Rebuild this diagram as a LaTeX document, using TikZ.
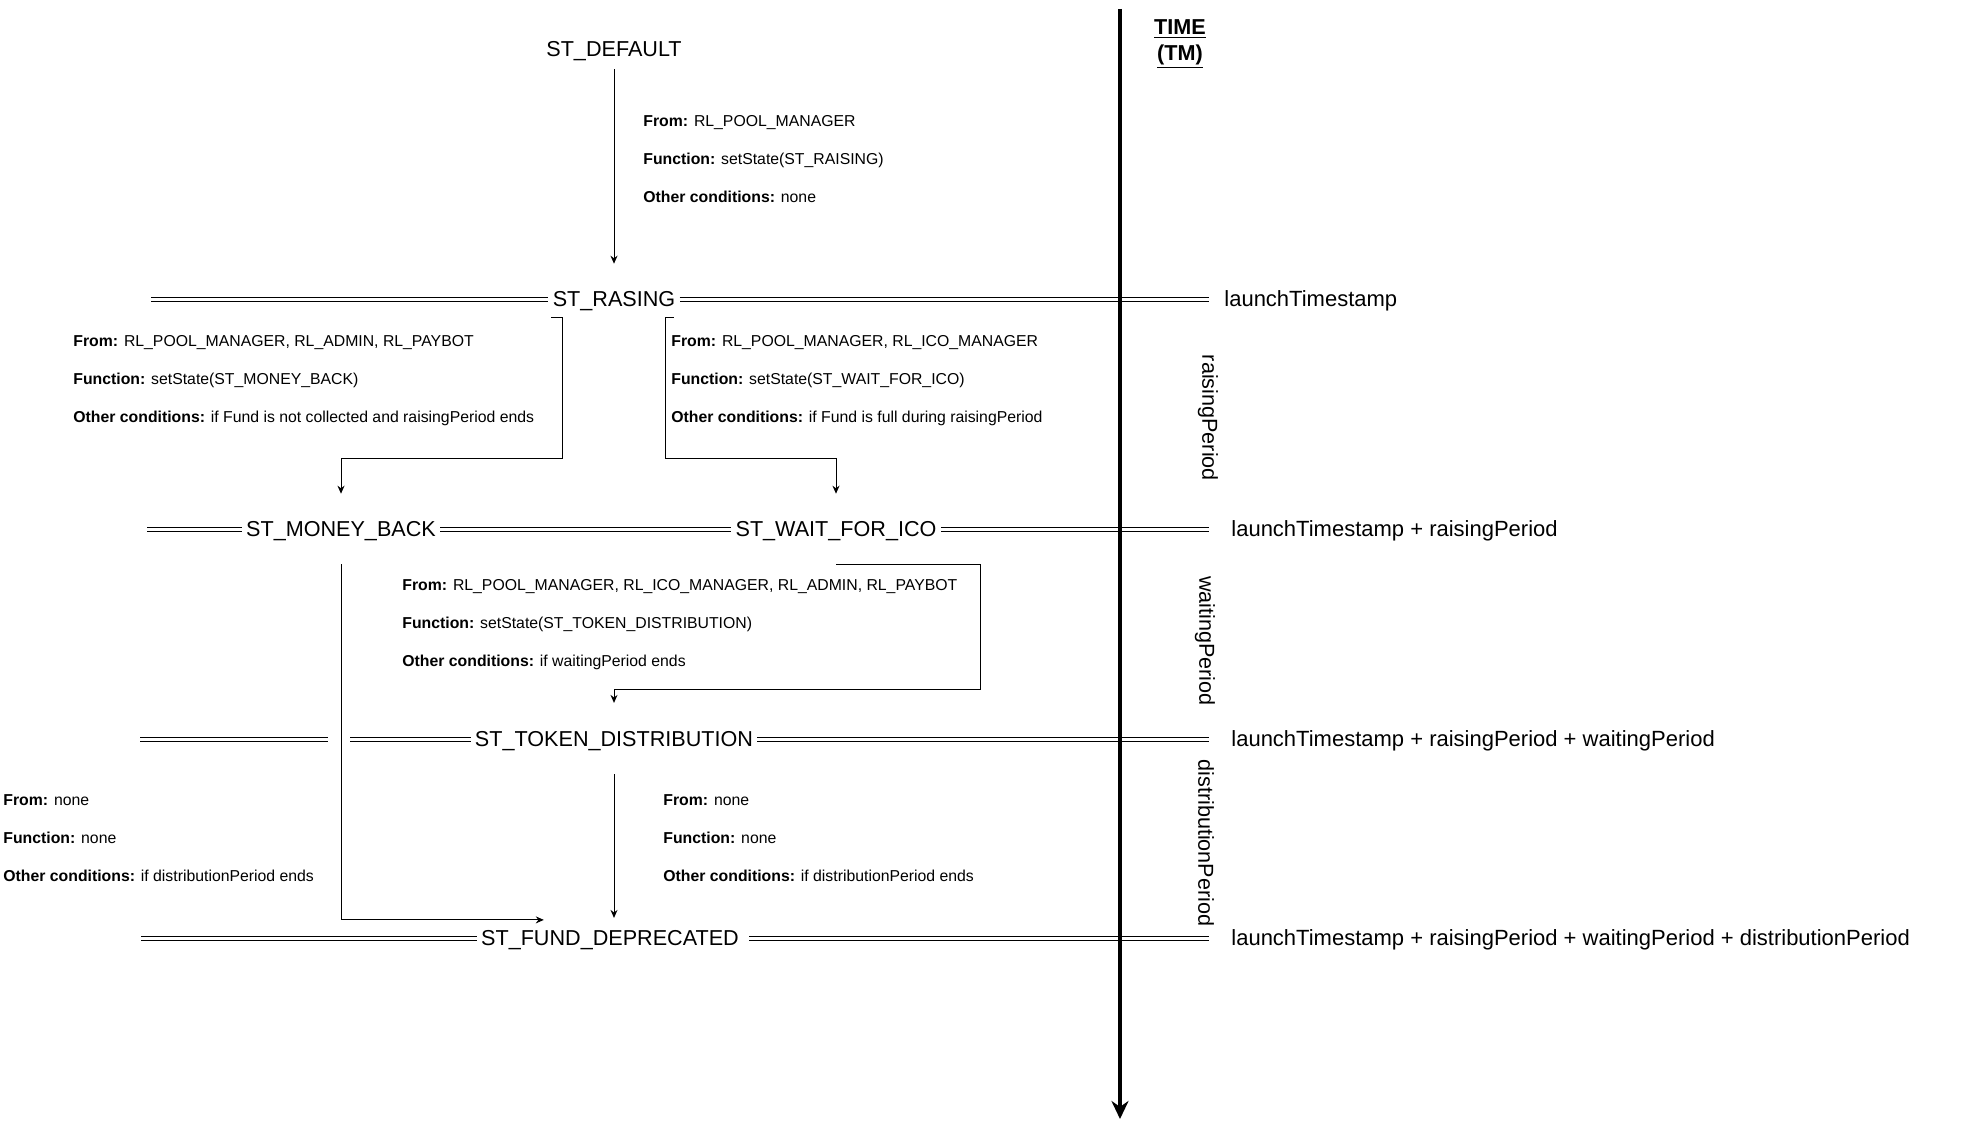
\documentclass[tikz,border=0pt]{standalone}
\usepackage{fontspec}
\setmainfont{Liberation Sans}
\usetikzlibrary{arrows.meta,positioning}
\tikzset{
  state/.style={font=\fontsize{10.8}{13}\selectfont, inner xsep=2pt, inner ysep=5pt, text height=7.7pt, text depth=0pt},
  cond/.style={font=\fontsize{7.9}{19}\selectfont, align=left, anchor=west, inner sep=0pt},
  tmark/.style={font=\fontsize{11}{13}\selectfont, inner sep=0pt, text height=7.9pt, text depth=0pt},
  period/.style={font=\fontsize{10.8}{13}\selectfont, rotate=-90, inner sep=0pt},
  dline/.style={double, double distance=1.5pt, line width=0.5pt},
  line/.style={-{Stealth[length=4pt, width=3.5pt]}, line width=0.5pt},
  timeline/.style={-{Stealth[length=9pt, width=8.5pt]}, line width=1.6pt}
}
\newcommand{\condtext}[3]{\textbf{From:} #1\\\textbf{Function:} #2\\\textbf{Other conditions:} #3}

\begin{document}
\begin{tikzpicture}[x=0.5pt, y=-0.5pt]
  \useasboundingbox (0,0) rectangle (1971,1129);

  % states
  \node[state] (default) at (614,49) {ST\_DEFAULT};
  \node[state] (rasing) at (614,299) {ST\_RASING};
  \node[state] (moneyback) at (341,529) {ST\_MONEY\_BACK};
  \node[state] (waitico) at (836,529) {ST\_WAIT\_FOR\_ICO};
  \node[state] (token) at (614,739) {ST\_TOKEN\_DISTRIBUTION};
  \node[state] (fund) at (610,938) {ST\_FUND\_DEPRECATED};

  % ends of the double lines
  \coordinate (r1w) at (151,299);
  \coordinate (r1e) at (1209,299);
  \coordinate (r2w) at (147,529);
  \coordinate (r2e) at (1209,529);
  \coordinate (r3w) at (140,739);
  \coordinate (r3a) at (328,739);
  \coordinate (r3b) at (350,739);
  \coordinate (r3e) at (1209,739);
  \coordinate (r4w) at (141,938);
  \coordinate (r4e) at (1209,938);

  \draw[dline] (r1w) -- (rasing);
  \draw[dline] (rasing) -- (r1e);
  \draw[dline] (r2w) -- (moneyback);
  \draw[dline] (moneyback) -- (waitico);
  \draw[dline] (waitico) -- (r2e);
  \draw[dline] (r3w) -- (r3a);
  \draw[dline] (r3b) -- (token);
  \draw[dline] (token) -- (r3e);
  \draw[dline] (r4w) -- (fund);
  \draw[dline, shorten <=3pt] (fund) -- (r4e);

  % time axis
  \coordinate (ttop) at (1120,9);
  \coordinate (tbot) at (1120,1119);
  \draw[timeline] (ttop) -- (tbot);
  \node[font=\fontsize{10.8}{13}\selectfont\bfseries, align=center, inner sep=0pt] (time) at (1180,44) {\underline{TIME}\\\underline{(TM)}};

  \node[tmark, right=7.5pt of r1e] (t1) {launchTimestamp};
  \node[tmark, right=11pt of r2e] (t2) {launchTimestamp + raisingPeriod};
  \node[tmark, right=11pt of r3e] (t3) {launchTimestamp + raisingPeriod + waitingPeriod};
  \node[tmark, right=11pt of r4e] (t4) {launchTimestamp + raisingPeriod + waitingPeriod + distributionPeriod};

  \node[period] (p1) at (1208,418) {raisingPeriod};
  \node[period] (p2) at (1205,641) {waitingPeriod};
  \node[period] (p3) at (1206,843) {distributionPeriod};

  % transitions
  \draw[line, shorten <=1pt, shorten >=8.6pt] (default) -- (rasing);
  \draw[line, shorten >=8.6pt] ([xshift=1.5pt]rasing.south west) -- ++(11,0) -- ++(0,141) -| (moneyback);
  \draw[line, shorten >=8.6pt] ([xshift=-3pt]rasing.south east) -- ++(-8,0) -- ++(0,141) -| (waitico);
  \draw[line, shorten >=9pt] ([yshift=-8.5pt]waitico.south) -| ++(144,125) -| (token);
  \draw[line] ([yshift=-8.5pt]moneyback.south) |- ([xshift=33.5pt]fund.north west);
  \draw[line, shorten <=8.5pt, shorten >=1pt] (token.south) -- (token.south |- fund.north);

  % conditions
  \node[cond] (c1) at (643,159) {\condtext{RL\_POOL\_MANAGER}{setState(ST\_RAISING)}{none}};
  \node[cond] (c2) at (73,381) {\condtext{RL\_POOL\_MANAGER, RL\_ADMIN, RL\_PAYBOT}{setState(ST\_MONEY\_BACK)}{if Fund is not collected and raisingPeriod ends}};
  \node[cond] (c3) at (671,381) {\condtext{RL\_POOL\_MANAGER, RL\_ICO\_MANAGER}{setState(ST\_WAIT\_FOR\_ICO)}{if Fund is full during raisingPeriod}};
  \node[cond] (c4) at (402,625) {\condtext{RL\_POOL\_MANAGER, RL\_ICO\_MANAGER, RL\_ADMIN, RL\_PAYBOT}{setState(ST\_TOKEN\_DISTRIBUTION)}{if waitingPeriod ends}};
  \node[cond] (c5) at (3,838) {\condtext{none}{none}{if distributionPeriod ends}};
  \node[cond] (c6) at (663,838) {\condtext{none}{none}{if distributionPeriod ends}};
\end{tikzpicture}
\end{document}
